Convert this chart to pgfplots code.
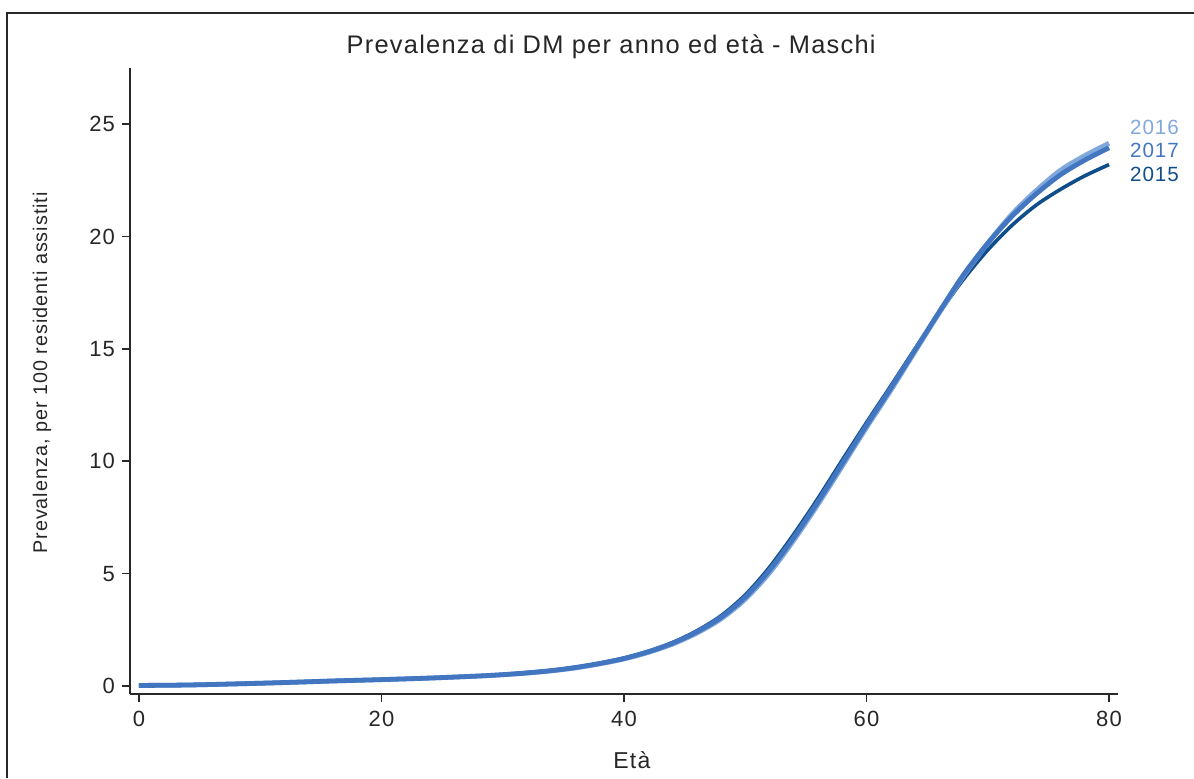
\documentclass[border=0pt]{standalone}
\usepackage{fontspec}
\setmainfont{Liberation Sans}[LetterSpace=5]
\usepackage{pgfplots}
\pgfplotsset{compat=1.18}
\definecolor{c15}{RGB}{16,78,139}
\definecolor{c17}{RGB}{66,118,192}
\definecolor{c16}{RGB}{128,168,220}
\definecolor{axgray}{RGB}{40,40,40}
\begin{document}
\begin{tikzpicture}[x=1pt,y=1pt]
\useasboundingbox (0,0) rectangle (597,389);
\draw[line width=1pt,axgray] (3.5,0) -- (3.5,382.5) -- (597,382.5);
\begin{axis}[
  at={(65pt,42pt)}, anchor=south west,
  scale only axis, width=494pt, height=313pt,
  xmin=-0.74, xmax=80.74, ymin=-0.36, ymax=27.5,
  axis x line*=bottom, axis y line*=left,
  axis line style={line width=0.9pt, axgray},
  every tick/.style={line width=0.8pt, axgray},
  tick align=outside, major tick length=4pt,
  xtick={0,20,40,60,80}, ytick={0,5,10,15,20,25},
  /pgf/number format/assume math mode=true,
  ticklabel style={font=\fontsize{11}{13}\selectfont, text=black!85},
  yticklabel style={xshift=0pt},
  xticklabel style={yshift=-1pt},
  title={Prevalenza di DM per anno ed età - Maschi},
  title style={at={(axis description cs:0.487,1.015)}, anchor=center, font=\fontsize{12.7}{15}\selectfont, text=black!85},
  xlabel={Età},
  xlabel style={at={(axis description cs:0.508,-0.105)}, anchor=center, font=\fontsize{11.5}{13}\selectfont, text=black!85},
  ylabel={Prevalenza, per 100 residenti assistiti},
  ylabel style={at={(axis description cs:-0.089,0.513)}, anchor=center, rotate=0, font=\fontsize{9.9}{12}\selectfont, text=black!85},
  clip=false,
]
\addplot[c15, line width=1.8pt, smooth] coordinates {(0,0.02)(4,0.04)(8,0.09)(12,0.15)(16,0.22)(20,0.28)(24,0.35)(28,0.44)(30,0.5)(32,0.59)(34,0.69)(36,0.83)(38,1.01)(40,1.24)(42,1.54)(44,1.93)(46,2.45)(48,3.12)(50,4.05)(52,5.28)(54,6.75)(56,8.35)(58,10.05)(60,11.72)(62,13.35)(64,15.0)(66,16.6)(68,18.1)(70,19.4)(72,20.5)(74,21.4)(76,22.1)(78,22.7)(80,23.2)};
\addplot[c16, line width=2.4pt, smooth] coordinates {(0,0.02)(4,0.04)(8,0.09)(12,0.15)(16,0.22)(20,0.28)(24,0.35)(28,0.44)(30,0.5)(32,0.57)(34,0.67)(36,0.8)(38,0.98)(40,1.2)(42,1.49)(44,1.86)(46,2.35)(48,2.98)(50,3.86)(52,5.03)(54,6.48)(56,8.08)(58,9.78)(60,11.5)(62,13.15)(64,14.88)(66,16.6)(68,18.25)(70,19.7)(72,21.0)(74,22.05)(76,22.95)(78,23.6)(80,24.15)};
\addplot[c17, line width=2.4pt, smooth] coordinates {(0,0.02)(4,0.04)(8,0.09)(12,0.15)(16,0.22)(20,0.28)(24,0.35)(28,0.44)(30,0.5)(32,0.58)(34,0.68)(36,0.82)(38,1.0)(40,1.22)(42,1.52)(44,1.9)(46,2.4)(48,3.05)(50,3.95)(52,5.15)(54,6.6)(56,8.2)(58,9.9)(60,11.6)(62,13.25)(64,14.95)(66,16.65)(68,18.3)(70,19.7)(72,20.9)(74,21.9)(76,22.75)(78,23.4)(80,23.95)};
\node[anchor=west, text=c16, font=\fontsize{10.3}{12}\selectfont, inner sep=0pt] at (axis cs:81.7,24.87) {2016};
\node[anchor=west, text=c17, font=\fontsize{10.3}{12}\selectfont, inner sep=0pt] at (axis cs:81.7,23.84) {2017};
\node[anchor=west, text=c15, font=\fontsize{10.3}{12}\selectfont, inner sep=0pt] at (axis cs:81.7,22.78) {2015};
\end{axis}
\end{tikzpicture}
\end{document}
